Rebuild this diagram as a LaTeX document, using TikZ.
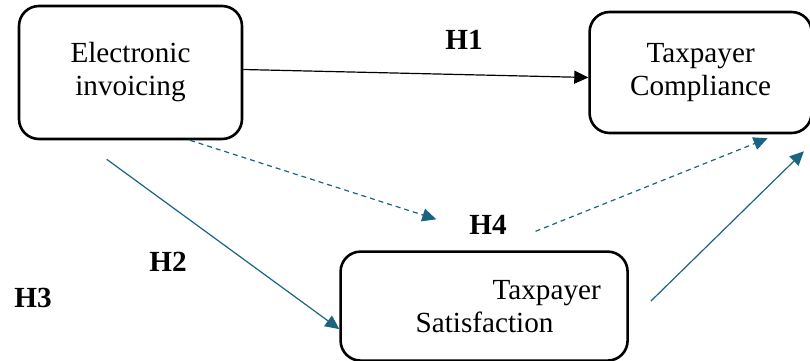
\documentclass[tikz,border=0pt]{standalone}
\usepackage{fontspec}
\setmainfont{Liberation Serif}
\usepackage{xcolor}
\definecolor{petrol}{RGB}{26, 99, 131}
\usetikzlibrary{arrows.meta, positioning, calc}
\tikzset{
  varbox/.style={draw=black, line width=1.3pt,
    rounded corners=10pt, align=center,
    font=\fontsize{14.6}{16.5}\selectfont},
  hlabel/.style={font=\fontsize{14.6}{16.5}\selectfont\bfseries},
  directarrow/.style={-{Triangle[length=7pt,width=6.5pt]}, line width=0.6pt, color=black},
  patharrow/.style={-{Triangle[length=7pt,width=6.5pt]}, line width=0.6pt, color=petrol},
  mediatarrow/.style={-{Triangle[length=7pt,width=6.5pt]}, line width=0.6pt, color=petrol,
    dash pattern=on 2.5pt off 2pt}
}

\begin{document}
\begin{tikzpicture}[x=0.5pt, y=-0.5pt]

  \useasboundingbox (0,0) rectangle (810,360);

  \node[varbox, minimum width=111.5pt, minimum height=66.5pt] (einv) at (130.5,72.5)
      {Electronic\\invoicing};
  \node[varbox, minimum width=111pt, minimum height=60.5pt, right=172.5pt of einv] (comp)
      {Taxpayer\\Compliance};
  \node[varbox, minimum width=143.5pt, minimum height=54.5pt, text width=120pt, align=left,
      below right=55pt and 48pt of einv] (satis)
      {\hspace*{64.25pt}Taxpayer\\\hspace*{25.75pt}Satisfaction};

  % hypothesis paths
  \draw[directarrow] ($(einv.east)+(0,-3)$) -- ($(comp.west)+(0,5)$);
  \draw[patharrow] ($(einv.south west)+(89,19)$) -- ($(satis.west)+(0,23)$);
  \draw[mediatarrow] ($(einv.south)+(59.5,0)$) -- ($(satis.north west)+(97,-31)$);
  \draw[mediatarrow] ($(satis.north)+(51.5,-19)$) -- ($(comp.south)+(67,4)$);
  \draw[patharrow] ($(satis.east)+(22,-5)$) -- ($(comp.south east)+(-9,17)$);

  \node[hlabel] (h1) at (464,40)  {H1};
  \node[hlabel] (h2) at (168,262) {H2};
  \node[hlabel] (h3) at (33,298)  {H3};
  \node[hlabel] (h4) at (488,225) {H4};

\end{tikzpicture}
\end{document}
